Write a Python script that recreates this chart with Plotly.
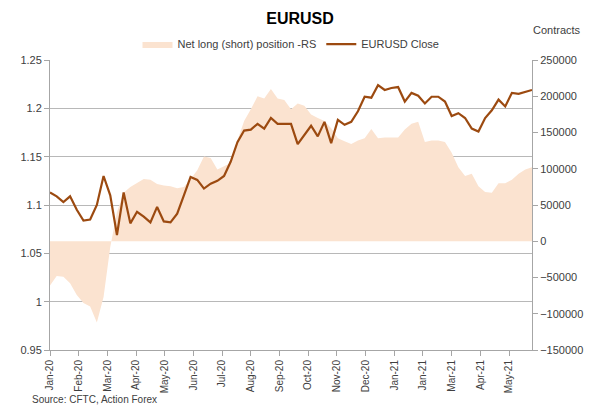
import plotly.graph_objects as go
import pandas as pd

# ---- data ----
dates = pd.date_range("2020-01-07", periods=73, freq="7D").strftime("%Y-%m-%d").tolist()

eurusd_close = [
    1.113, 1.109, 1.103, 1.109, 1.095, 1.084, 1.085, 1.100, 1.130, 1.110,
    1.069, 1.113, 1.081, 1.093, 1.088, 1.082, 1.098, 1.083, 1.082, 1.091,
    1.110, 1.129, 1.126, 1.117, 1.122, 1.125, 1.130, 1.145, 1.165, 1.177,
    1.178, 1.184, 1.179, 1.190, 1.184, 1.184, 1.184, 1.163, 1.172, 1.182,
    1.171, 1.186, 1.164, 1.188, 1.183, 1.186, 1.197, 1.212, 1.211, 1.224,
    1.219, 1.221, 1.222, 1.207, 1.216, 1.213, 1.205, 1.212, 1.212, 1.207,
    1.192, 1.195, 1.190, 1.179, 1.176, 1.190, 1.198, 1.209, 1.202, 1.216,
    1.215, 1.217, 1.219,
]

net_position = [
    -61000, -48000, -49000, -58000, -74000, -85000, -90000, -112000, -77000, -8000,
    40000, 67000, 75000, 80000, 86000, 85000, 79000, 77000, 76000, 73000,
    75000, 86000, 98000, 117000, 115000, 99000, 103000, 108000, 139000, 166000,
    182000, 200000, 197000, 210000, 197000, 195000, 182000, 190000, 187000, 175000,
    170000, 166000, 156000, 142000, 138000, 134000, 139000, 142000, 155000, 142000,
    143000, 143000, 143000, 154000, 162000, 165000, 137000, 139000, 139000, 137000,
    122000, 102000, 90000, 93000, 76000, 68000, 67000, 80000, 80000, 85000,
    93000, 99000, 102000,
]

price_ticks = [0.95, 1.0, 1.05, 1.1, 1.15, 1.2, 1.25]
price_tick_text = ["0.95", "1", "1.05", "1.1", "1.15", "1.2", "1.25"]
contract_ticks = [-150000, -100000, -50000, 0, 50000, 100000, 150000, 200000, 250000]

FONT = "Liberation Sans, Arial, sans-serif"
TXT = "#404040"
AXIS = "#A6A6A6"

fig = go.Figure()

fig.add_trace(go.Scatter(
    x=dates, y=net_position, name="Net long (short) position -RS",
    mode="lines", line=dict(width=0, color="#FBE3D0"),
    fill="tozeroy", fillcolor="#FBE3D0", yaxis="y",
))
fig.add_trace(go.Scatter(
    x=dates, y=eurusd_close, name="EURUSD Close",
    mode="lines", line=dict(width=2.2, color="#9C4A10"), yaxis="y2",
))

fig.update_layout(
    width=600, height=412,
    margin=dict(l=50, r=68, t=60, b=62),
    paper_bgcolor="white", plot_bgcolor="white",
    font=dict(family=FONT, size=11, color=TXT),
    title=dict(text="<b>EURUSD</b>", x=0.5, xanchor="center", y=0.955, yanchor="middle",
               font=dict(family=FONT, size=16, color="#000000")),
    showlegend=True,
    legend=dict(orientation="h", x=0.5, xanchor="center", y=1.055, yanchor="middle",
                font=dict(family=FONT, size=11, color=TXT), itemwidth=30,
                bgcolor="rgba(0,0,0,0)", traceorder="normal"),
    xaxis=dict(
        type="date", range=["2020-01-07", "2021-05-25"],
        tick0="2020-01-07", dtick=30 * 86400000, tickformat="%b-%y",
        tickangle=-90, ticks="outside", ticklen=5, tickcolor=AXIS,
        showline=True, linecolor=AXIS, linewidth=1, showgrid=False,
        tickfont=dict(family=FONT, size=10, color=TXT), automargin=False,
    ),
    yaxis=dict(
        side="right", range=[-150000, 250000], tickvals=contract_ticks,
        tickformat="d", showgrid=False, zeroline=False,
        showline=True, linecolor=AXIS, linewidth=1,
        ticks="outside", ticklen=5, tickcolor=AXIS,
        tickfont=dict(family=FONT, size=11, color=TXT), automargin=False,
    ),
    yaxis2=dict(
        overlaying="y", side="left", range=[0.95, 1.25],
        tickvals=price_ticks, ticktext=price_tick_text,
        showgrid=True, gridcolor="#B8B8B8", gridwidth=1, zeroline=False,
        showline=True, linecolor=AXIS, linewidth=1,
        ticks="outside", ticklen=5, tickcolor=AXIS,
        tickfont=dict(family=FONT, size=11, color=TXT), automargin=False,
    ),
)

fig.add_annotation(text="Contracts", xref="paper", yref="paper", x=1.052, y=1.103,
                   xanchor="center", yanchor="middle", showarrow=False,
                   font=dict(family=FONT, size=11, color=TXT))
fig.add_annotation(text="Source: CFTC, Action Forex", xref="paper", yref="paper",
                   x=-0.041, y=-0.172, xanchor="left", yanchor="middle", showarrow=False,
                   font=dict(family=FONT, size=10, color=TXT))

fig.write_html("out.html", config={"displayModeBar": False},
               post_script="document.body.style.margin='0';")
